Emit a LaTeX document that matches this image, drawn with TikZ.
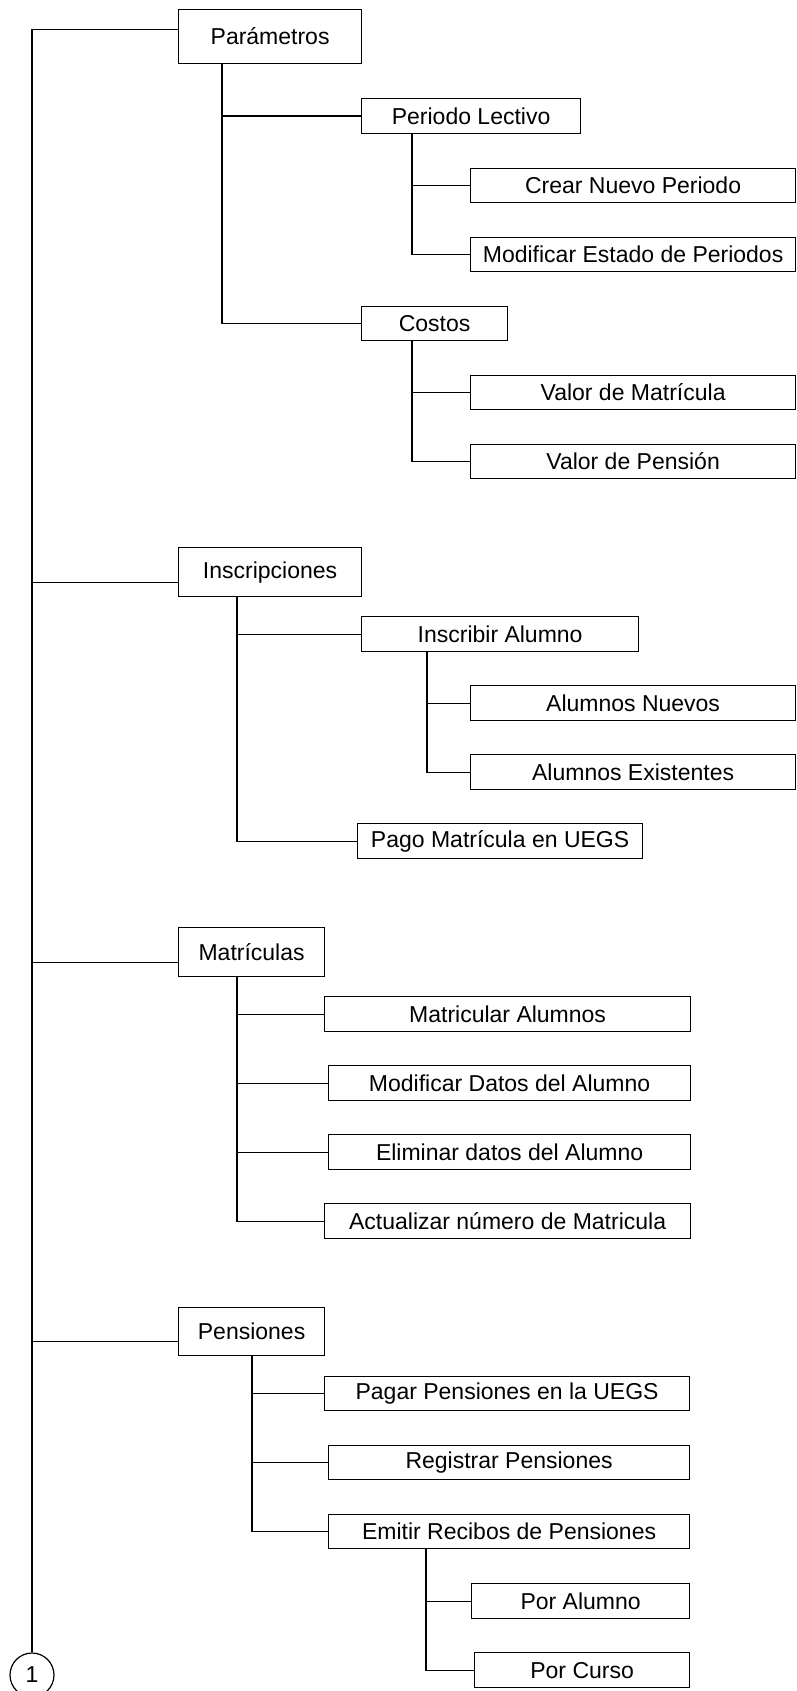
\documentclass[tikz,border=0pt]{standalone}
\usepackage{fontspec}
\setmainfont{Liberation Sans}
\usetikzlibrary{calc}
\tikzset{
	caja/.style={
			draw, line width=1.2pt, anchor=north west, inner sep=4pt,
			font=\fontsize{23}{27}\selectfont
		},
	rama/.style={line width=1.2pt}
}

\begin{document}
\begin{tikzpicture}[x=1pt, y=-1pt]
		\useasboundingbox (0,0) rectangle (796,1691);

		\node [caja, minimum width=183, minimum height=54]	(par) at (178,9) {Parámetros};
		\node [caja, minimum width=219, minimum height=35]	(per) at (361,98) {Periodo Lectivo};
		\node [caja, minimum width=325, minimum height=34]	(cre) at (470,168) {Crear Nuevo Periodo};
		\node [caja, minimum width=325, minimum height=34]	(mod) at (470,237) {Modificar Estado de Periodos};
		\node [caja, minimum width=146, minimum height=34]	(cos) at (361,306) {Costos};
		\node [caja, minimum width=325, minimum height=34]	(vmat) at (470,375) {Valor de Matrícula};
		\node [caja, minimum width=325, minimum height=34]	(vpen) at (470,444) {Valor de Pensión};

		\node [caja, minimum width=183, minimum height=49]	(ins) at (178,547) {Inscripciones};
		\node [caja, minimum width=277, minimum height=35]	(ialu) at (361,616) {Inscribir Alumno};
		\node [caja, minimum width=325, minimum height=35]	(anue) at (470,685) {Alumnos Nuevos};
		\node [caja, minimum width=325, minimum height=35]	(aexi) at (470,754) {Alumnos Existentes};
		\node [caja, minimum width=285, minimum height=35]	(pago) at (357,823) {Pago Matrícula en UEGS};

		\node [caja, minimum width=146, minimum height=49]	(mat) at (178,927) {Matrículas};
		\node [caja, minimum width=366, minimum height=35]	(mal) at (324,996) {Matricular Alumnos};
		\node [caja, minimum width=362, minimum height=35]	(mdat) at (328,1065) {Modificar Datos del Alumno};
		\node [caja, minimum width=362, minimum height=35]	(elim) at (328,1134) {Eliminar datos del Alumno};
		\node [caja, minimum width=366, minimum height=35]	(act) at (324,1203) {Actualizar número de Matricula};

		\node [caja, minimum width=146, minimum height=48]	(pen) at (178,1307) {Pensiones};
		\node [caja, minimum width=365, minimum height=34]	(ppag) at (324,1376) {Pagar Pensiones en la UEGS};
		\node [caja, minimum width=361, minimum height=34]	(preg) at (328,1445) {Registrar Pensiones};
		\node [caja, minimum width=361, minimum height=34]	(emi) at (328,1514) {Emitir Recibos de Pensiones};
		\node [caja, minimum width=218, minimum height=35]	(palu) at (471,1583) {Por Alumno};
		\node [caja, minimum width=215, minimum height=35]	(pcur) at (474,1652) {Por Curso};

		\node [draw, circle, line width=1.2pt, minimum size=44, inner sep=0pt,
			font=\fontsize{23}{27}\selectfont]	(uno) at (32,1675) {1};

		\coordinate (parC) at ($(par.west)+(0,-7)$);
		\coordinate (insC) at ($(ins.west)+(0,10)$);
		\coordinate (matC) at ($(mat.west)+(0,10)$);
		\coordinate (penC) at ($(pen.west)+(0,10)$);

		\coordinate (parT) at ($(par.south west)+(44,0)$);
		\coordinate (perT) at ($(per.south west)+(51,0)$);
		\coordinate (cosT) at ($(cos.south west)+(51,0)$);
		\coordinate (insT) at ($(ins.south west)+(59,0)$);
		\coordinate (ialT) at ($(ialu.south west)+(66,0)$);
		\coordinate (matT) at ($(mat.south west)+(59,0)$);
		\coordinate (penT) at ($(pen.south west)+(74,0)$);
		\coordinate (emiT) at ($(emi.south west)+(98,0)$);

		\draw [rama]	(parC) -| (uno.north);
		\draw [rama]	(insC) -- (insC -| uno.north);
		\draw [rama]	(matC) -- (matC -| uno.north);
		\draw [rama]	(penC) -- (penC -| uno.north);

		\draw [rama]	(parT) |- (per.west);
		\draw [rama]	(parT) |- (cos.west);
		\draw [rama]	(perT) |- (cre.west);
		\draw [rama]	(perT) |- (mod.west);
		\draw [rama]	(cosT) |- (vmat.west);
		\draw [rama]	(cosT) |- (vpen.west);

		\draw [rama]	(insT) |- (ialu.west);
		\draw [rama]	(insT) |- (pago.west);
		\draw [rama]	(ialT) |- (anue.west);
		\draw [rama]	(ialT) |- (aexi.west);

		\draw [rama]	(matT) |- (mal.west);
		\draw [rama]	(matT) |- (mdat.west);
		\draw [rama]	(matT) |- (elim.west);
		\draw [rama]	(matT) |- (act.west);

		\draw [rama]	(penT) |- (ppag.west);
		\draw [rama]	(penT) |- (preg.west);
		\draw [rama]	(penT) |- (emi.west);
		\draw [rama]	(emiT) |- (palu.west);
		\draw [rama]	(emiT) |- (pcur.west);
	\end{tikzpicture}
\end{document}
